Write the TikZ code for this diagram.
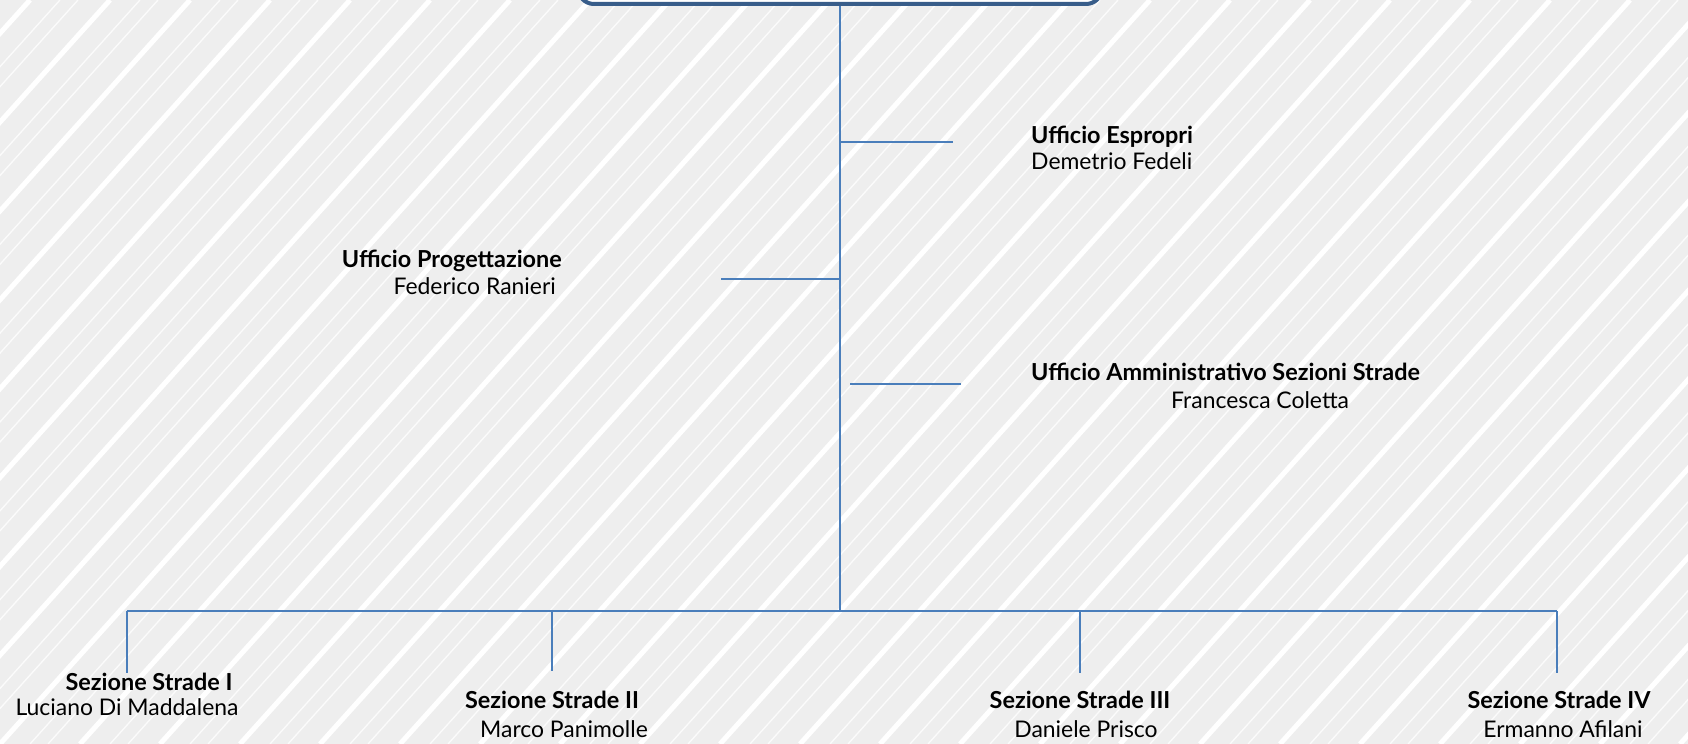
\documentclass[tikz,border=0pt]{standalone}
\usepackage{fontspec}
\setmainfont{Lato}
\definecolor{connc}{HTML}{4A7EBB}
\definecolor{boxc}{HTML}{385D8A}
\definecolor{bgc}{HTML}{EEEEEE}
\begin{document}
\begin{tikzpicture}[x=1bp,y=-1bp,
  conn/.style={draw=connc, line width=2bp},
  ttl/.style={font=\bfseries\fontsize{23.5}{27}\selectfont, inner sep=0pt},
  pers/.style={font=\fontsize{23}{27}\selectfont, inner sep=0pt},
  stripe/.style={draw=white, line width=5bp},
  thinstripe/.style={draw=white, line width=1.3bp, opacity=0.8}]
\useasboundingbox (0,0) rectangle (1688,744);
\fill[bgc] (0,0) rectangle (1688,744);
\begin{scope}
\clip (0,0) rectangle (1688,744);
\foreach \i in {-9,...,21} {
  \draw[stripe] (\i*80,744) -- ++(670,-744);
  \draw[thinstripe] (\i*80+30,744) -- ++(670,-744);
  \draw[thinstripe] (\i*80+48,744) -- ++(670,-744);
}
\end{scope}
% top box
\node[draw=boxc, line width=4bp, fill=white, rounded corners=16bp,
      minimum width=524bp, minimum height=90bp, anchor=south] (top) at (840,6) {};
% coordinates
\coordinate (tE) at (840,142);
\coordinate (eE) at (953,142);
\coordinate (tP) at (840,279);
\coordinate (eP) at (721,279);
\coordinate (sA) at (850,384);
\coordinate (eA) at (961,384);
\coordinate (bus) at (840,611);
\coordinate (busL) at (127,611);
\coordinate (busR) at (1557,611);
\coordinate (b2) at (552,611);
\coordinate (b3) at (1080,611);
\coordinate (d1) at (127,673);
\coordinate (d2) at (552,671);
\coordinate (d3) at (1080,673);
\coordinate (d4) at (1557,673);
% connectors
\draw[conn] (top.south) -- (bus);
\draw[conn] (tE) -- (eE);
\draw[conn] (eP) -- (tP);
\draw[conn] (sA) -- (eA);
\draw[conn] (busL) -- (busR);
\draw[conn] (busL) -- (d1);
\draw[conn] (b2) -- (d2);
\draw[conn] (b3) -- (d3);
\draw[conn] (busR) -- (d4);
% texts
\node[ttl, anchor=base west] (espT) at (1031,143) {Ufficio Espropri};
\node[pers, anchor=base west] (espN) at (1031,169) {Demetrio Fedeli};
\node[ttl, anchor=base east] (proT) at (562,267) {Ufficio Progettazione};
\node[pers, anchor=base east] (proN) at (556,294) {Federico Ranieri};
\node[ttl, anchor=base west] (admT) at (1031,380) {Ufficio Amministrativo Sezioni Strade};
\node[pers, anchor=base west] (admN) at (1171,408) {Francesca Coletta};
\node[ttl, anchor=base] (s1T) at (149,690) {Sezione Strade I};
\node[pers, anchor=base] (s1N) at (127,715) {Luciano Di Maddalena};
\node[ttl, anchor=base] (s2T) at (552,708) {Sezione Strade II};
\node[pers, anchor=base] (s2N) at (564,737) {Marco Panimolle};
\node[ttl, anchor=base] (s3T) at (1080,708) {Sezione Strade III};
\node[pers, anchor=base] (s3N) at (1086,737) {Daniele Prisco};
\node[ttl, anchor=base] (s4T) at (1559,708) {Sezione Strade IV};
\node[pers, anchor=base] (s4N) at (1563,737) {Ermanno Afilani};
\end{tikzpicture}
\end{document}
